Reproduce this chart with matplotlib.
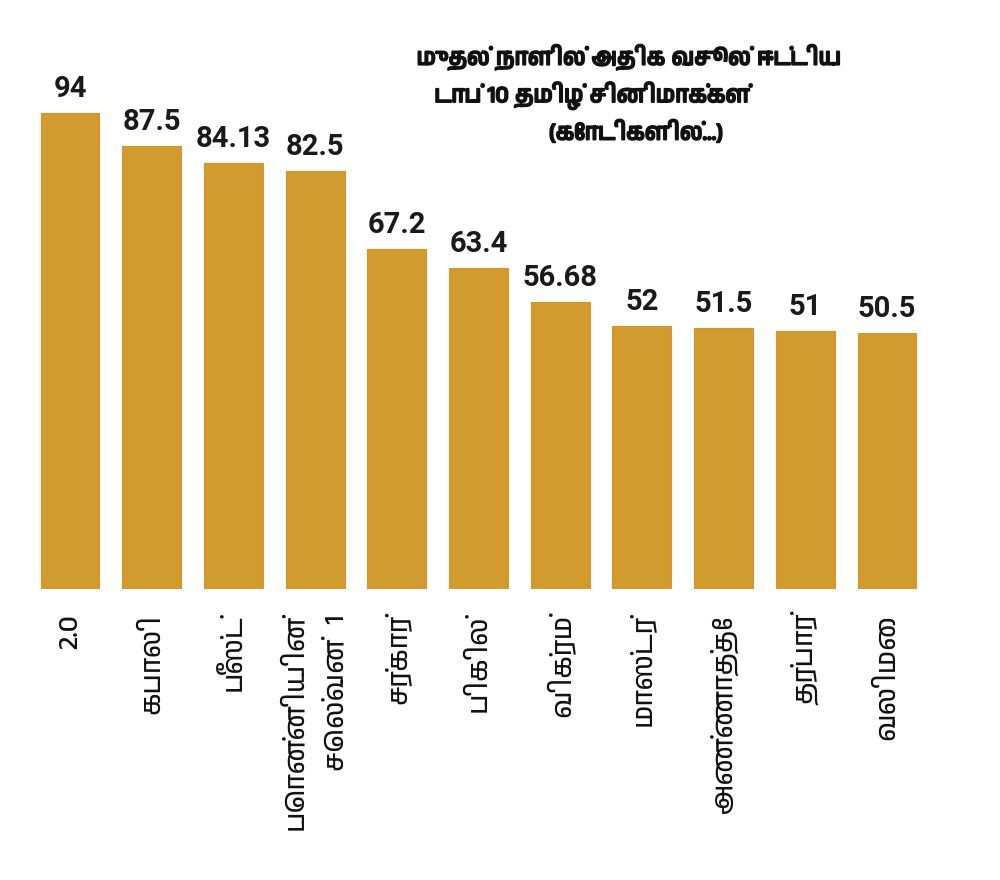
import matplotlib
matplotlib.use("Agg")
import matplotlib.pyplot as plt
import matplotlib.patheffects as pe
from matplotlib import font_manager
from matplotlib.ft2font import FT2Font

# படங்களும் முதல் நாள் வசூலும் (கோடிகளில்)
movies = ["2.0", "கபாலி", "பீஸ்ட்", "பொன்னியின்\nசெல்வன்  1", "சர்கார்",
          "பிகில்", "விக்ரம்", "மாஸ்டர்", "அண்ணாத்தே", "தர்பார்", "வலிமை"]
collections = [94, 87.5, 84.13, 82.5, 67.2, 63.4, 56.68, 52, 51.5, 51, 50.5]
value_labels = ["94", "87.5", "84.13", "82.5", "67.2", "63.4", "56.68",
                "52", "51.5", "51", "50.5"]
title_lines = ["முதல் நாளில் அதிக வசூல் ஈட்டிய",
               "டாப் 10 தமிழ் சினிமாக்கள்",
               "(கோடிகளில்...)"]


# look for an installed font that has Tamil glyphs
def find_tamil_font():
    names = []
    for f in font_manager.fontManager.ttflist:
        if f.name in names:
            continue
        try:
            cmap = FT2Font(f.fname).get_charmap()
        except Exception:
            continue
        if 0x0B95 in cmap:
            names.append(f.name)
    names.sort(key=lambda n: (0 if "Tamil" in n else 1, n))
    return names[0] if names else None


tamil = find_tamil_font()
families = ([tamil] if tamil else []) + ["DejaVu Sans"]
plt.rcParams['font.family'] = families

bar_color = "#d19b2f"

fig = plt.figure(figsize=(10, 8.8), dpi=100)
ax = fig.add_axes([0.021, 0.3303, 0.915, 0.6697])

x = list(range(len(movies)))
bars = ax.bar(x, collections, width=0.72, color=bar_color,
              edgecolor="#d8962a", linewidth=0.8)

ax.set_xlim(-0.6, len(movies) - 0.4)
ax.set_ylim(0, 116.2)

for xi, v, lab in zip(x, collections, value_labels):
    ax.annotate(lab, (xi, v), xytext=(0, 11.5), textcoords="offset points",
                ha="center", va="baseline", fontsize=21, fontweight="bold",
                color="#1a1a1a", family=["Roboto", "DejaVu Sans"])

ax.set_xticks(x)
ax.set_xticklabels(movies, rotation=90, fontsize=20, color="#111111",
                   multialignment="right", linespacing=1.9)
ax.tick_params(axis="x", length=0, pad=18)
ax.set_yticks([])
for s in ax.spines.values():
    s.set_visible(False)

# title, bold look by a thin stroke
title_y = [0.935, 0.891, 0.850]
title_x = [0.629, 0.592, 0.636]
for tx, ty, line in zip(title_x, title_y, title_lines):
    fig.text(tx, ty, line, ha="center", va="center", fontsize=16.5,
             fontweight="bold", color="#111111",
             path_effects=[pe.withStroke(linewidth=1.4, foreground="#111111")])

fig.savefig("out.png", dpi=100)
